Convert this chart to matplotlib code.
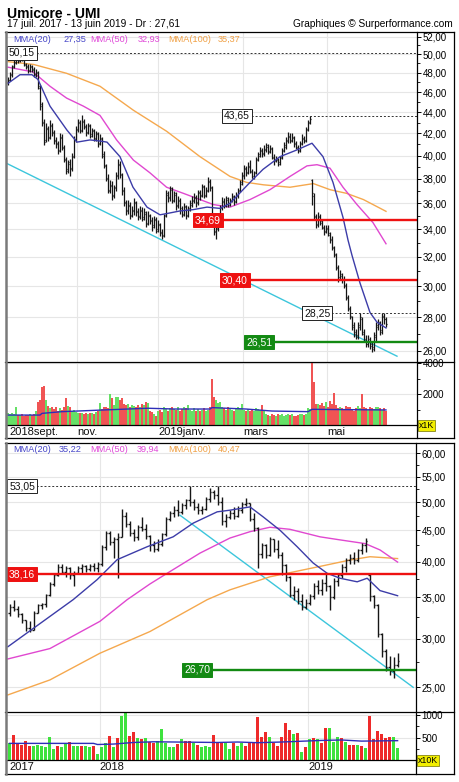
import numpy as np
import matplotlib
matplotlib.use('Agg')
import matplotlib.pyplot as plt
from matplotlib.lines import Line2D
from matplotlib.ticker import FixedLocator, FuncFormatter, NullFormatter
from matplotlib.transforms import blended_transform_factory

plt.rcParams['font.family'] = ['Liberation Sans', 'DejaVu Sans']

title = 'Umicore - UMI'
subtitle = '17 juil. 2017 - 13 juin 2019 - Dr : 27,61'
credit = 'Graphiques © Surperformance.com'

# ---- daily chart (one bar per trading day, sept. 2018 -> 13 juin 2019)
d_open = [
    47.0, 47.3, 47.8, 48.7, 49.1, 49.7, 49.4, 49.9, 49.4, 48.8,
    48.7, 48.3, 48.6, 48.4, 47.8, 48.0, 46.4, 44.8, 43.1, 41.4,
    42.4, 41.7, 42.7, 42.1, 41.4, 41.1, 40.5, 41.6, 40.7, 39.7,
    38.8, 39.4, 38.9, 40.0, 41.4, 42.3, 43.1, 42.3, 43.1, 42.7,
    42.1, 42.7, 41.9, 42.2, 41.6, 41.9, 41.1, 41.5, 40.1, 39.1,
    38.1, 37.1, 37.5, 36.7, 37.3, 38.2, 39.2, 38.3, 37.1, 36.1,
    35.5, 35.8, 35.1, 35.4, 36.0, 35.4, 35.0, 35.4, 34.9, 35.2,
    34.5, 35.0, 34.7, 34.3, 34.7, 34.0, 34.3, 33.8, 33.6, 35.1,
    36.7, 36.5, 37.1, 36.3, 36.7, 35.9, 36.2, 35.6, 35.2, 35.7,
    35.1, 35.6, 35.9, 36.2, 36.4, 36.1, 36.8, 36.7, 37.3, 36.7,
    37.1, 37.7, 37.2, 34.9, 33.9, 34.1, 34.8, 35.7, 36.1, 35.9,
    36.3, 36.0, 36.3, 36.5, 36.2, 36.6, 37.1, 37.7, 38.2, 38.8,
    38.6, 39.0, 38.6, 38.2, 38.6, 39.7, 40.1, 40.4, 40.2, 40.5,
    40.8, 40.4, 40.6, 39.8, 39.6, 39.6, 39.4, 39.9, 40.5, 40.8,
    41.3, 41.7, 41.4, 41.6, 41.1, 40.7, 40.5, 41.1, 41.5, 41.4,
    42.4, 43.1, 37.9, 36.6, 34.9, 34.4, 34.9, 34.6, 34.1, 33.9,
    34.1, 33.6, 33.3, 32.6, 32.1, 31.2, 30.6, 30.7, 30.5, 30.0,
    29.2, 28.5, 28.0, 27.5, 27.1, 26.8, 27.4, 27.9, 27.1, 26.7,
    26.4, 26.6, 26.4, 26.2, 26.8, 27.4, 27.6, 27.2, 28.0, 27.9]
d_high = [
    47.6, 48.1, 48.8, 49.5, 49.9, 49.9, 50.15, 50.1, 49.6, 49.1,
    48.9, 48.9, 48.8, 48.6, 48.4, 48.2, 46.7, 45.0, 43.4, 43.0,
    42.7, 43.3, 43.0, 42.3, 41.7, 41.3, 42.0, 41.9, 40.9, 39.9,
    39.6, 39.7, 40.2, 41.8, 42.7, 43.4, 43.3, 43.7, 43.4, 42.9,
    43.0, 42.9, 42.5, 42.4, 42.2, 42.1, 41.9, 41.7, 40.4, 39.3,
    38.4, 37.9, 37.8, 37.5, 38.6, 39.7, 39.5, 38.5, 37.3, 36.3,
    36.3, 36.1, 35.8, 36.4, 36.2, 35.6, 35.8, 35.7, 35.6, 35.4,
    35.4, 35.2, 34.9, 35.0, 34.9, 34.7, 34.5, 34.0, 35.2, 37.1,
    37.0, 37.4, 37.3, 37.0, 36.9, 36.6, 36.4, 35.8, 36.0, 35.9,
    35.8, 36.3, 36.6, 36.8, 36.7, 37.1, 37.1, 37.6, 37.5, 37.3,
    38.15, 38.0, 37.4, 35.1, 34.3, 35.1, 35.9, 36.5, 36.4, 36.6,
    36.5, 36.4, 36.8, 36.7, 36.9, 37.2, 37.9, 38.6, 39.2, 39.1,
    39.4, 39.6, 38.8, 38.7, 39.9, 40.3, 40.8, 40.7, 40.9, 41.1,
    41.0, 40.9, 40.8, 40.1, 40.0, 39.8, 40.0, 40.7, 41.2, 41.7,
    42.1, 42.0, 42.0, 41.8, 41.3, 40.9, 41.3, 41.9, 41.8, 42.6,
    43.3, 43.65, 38.0, 36.8, 35.2, 35.3, 35.2, 34.8, 34.3, 34.3,
    34.3, 33.8, 33.5, 32.8, 32.3, 31.4, 31.1, 30.9, 30.7, 30.2,
    29.4, 28.7, 28.1, 27.7, 27.3, 27.7, 28.25, 28.0, 27.3, 26.9,
    26.9, 26.8, 26.6, 27.1, 27.7, 27.9, 27.8, 28.25, 28.25, 28.0]
d_low = [
    46.7, 47.1, 47.6, 48.5, 48.9, 49.1, 49.2, 49.3, 48.7, 48.4,
    48.0, 48.1, 48.1, 47.6, 47.6, 46.3, 44.2, 42.7, 40.9, 41.2,
    41.3, 41.5, 41.8, 41.0, 40.7, 40.1, 40.3, 40.5, 39.4, 38.4,
    38.5, 38.2, 38.7, 39.8, 41.2, 42.1, 42.0, 42.1, 42.4, 41.8,
    41.9, 41.6, 41.7, 41.3, 41.3, 40.8, 40.9, 39.8, 38.9, 37.8,
    36.8, 36.8, 36.3, 36.4, 37.0, 38.0, 38.1, 36.7, 35.8, 35.1,
    35.2, 34.8, 34.9, 35.1, 35.0, 34.7, 34.8, 34.6, 34.7, 34.2,
    34.3, 34.4, 33.9, 34.1, 33.7, 33.8, 33.5, 33.3, 33.4, 34.9,
    36.1, 36.2, 36.0, 36.1, 35.5, 35.6, 35.2, 34.9, 35.0, 34.8,
    34.9, 35.4, 35.7, 36.0, 35.7, 35.9, 36.3, 36.5, 36.4, 36.5,
    36.9, 37.0, 34.8, 33.6, 33.3, 33.9, 34.6, 35.5, 35.6, 35.7,
    35.7, 35.8, 36.1, 35.9, 36.0, 36.4, 36.9, 37.5, 38.0, 38.2,
    38.4, 38.5, 38.05, 38.0, 38.4, 39.5, 39.9, 39.9, 40.0, 40.3,
    40.1, 40.2, 39.7, 39.2, 39.4, 39.1, 39.2, 39.7, 40.3, 40.6,
    41.1, 41.1, 41.2, 40.8, 40.6, 40.2, 40.3, 40.9, 41.1, 41.2,
    42.2, 42.9, 35.9, 34.8, 34.1, 34.2, 34.3, 34.0, 33.6, 33.7,
    33.5, 33.0, 32.5, 32.0, 31.1, 30.3, 30.4, 30.2, 29.9, 29.1,
    28.4, 27.9, 27.2, 26.8, 26.7, 26.7, 27.2, 26.9, 26.5, 26.2,
    26.2, 26.1, 25.94, 26.0, 26.6, 27.2, 26.9, 27.0, 27.6, 27.4]
d_close = [
    47.2, 47.9, 48.6, 49.2, 49.6, 49.3, 49.8, 49.5, 48.9, 48.6,
    48.2, 48.7, 48.3, 47.9, 48.1, 46.6, 44.6, 43.0, 41.2, 42.5,
    41.6, 42.8, 42.0, 41.3, 41.0, 40.4, 41.7, 40.8, 39.6, 38.7,
    39.3, 38.8, 39.9, 41.5, 42.4, 43.0, 42.2, 43.2, 42.6, 42.0,
    42.8, 41.8, 42.3, 41.5, 42.0, 41.0, 41.6, 40.0, 39.2, 38.0,
    37.0, 37.4, 36.6, 37.2, 38.3, 39.3, 38.4, 37.0, 36.0, 35.4,
    35.9, 35.0, 35.5, 36.1, 35.3, 34.9, 35.5, 34.8, 35.3, 34.4,
    35.1, 34.6, 34.2, 34.8, 33.9, 34.4, 33.7, 33.5, 35.0, 36.8,
    36.4, 37.2, 36.2, 36.8, 35.8, 36.3, 35.5, 35.1, 35.8, 35.0,
    35.5, 36.0, 36.3, 36.5, 36.0, 36.9, 36.6, 37.4, 36.6, 37.0,
    37.8, 37.3, 35.0, 33.8, 34.0, 34.9, 35.6, 36.2, 35.8, 36.4,
    35.9, 36.2, 36.6, 36.1, 36.7, 37.0, 37.6, 38.3, 38.9, 38.5,
    39.1, 38.7, 38.1, 38.5, 39.6, 40.0, 40.5, 40.1, 40.6, 40.9,
    40.3, 40.7, 39.9, 39.5, 39.7, 39.3, 39.8, 40.4, 40.9, 41.4,
    41.8, 41.3, 41.7, 41.0, 40.8, 40.4, 41.0, 41.6, 41.3, 42.3,
    43.0, 43.4, 36.8, 35.0, 34.3, 35.0, 34.5, 34.2, 33.8, 34.0,
    33.7, 33.2, 32.7, 32.2, 31.3, 30.5, 30.8, 30.4, 30.1, 29.3,
    28.6, 28.1, 27.4, 27.0, 26.9, 27.5, 28.0, 27.0, 26.6, 26.4,
    26.7, 26.3, 26.1, 26.9, 27.5, 27.7, 27.1, 28.1, 27.9, 27.61]
# volume in thousands
d_vol = [
    800, 750, 780, 700, 1200, 680, 650, 700, 620, 680,
    650, 700, 680, 720, 900, 1500, 1600, 2480, 2560, 1630,
    1250, 1100, 1200, 1050, 1150, 950, 1100, 1000, 1200, 1740,
    1250, 1150, 900, 1000, 850, 800, 780, 820, 760, 800,
    750, 820, 780, 700, 850, 900, 1420, 1050, 1150, 1200,
    1100, 2000, 1740, 1300, 1850, 1800, 1650, 1740, 1400, 1300,
    1350, 1200, 1300, 1250, 1150, 1300, 1200, 1400, 1300, 1520,
    1450, 900, 850, 700, 600, 950, 1000, 850, 1150, 1050,
    900, 1100, 1150, 1050, 1000, 1200, 950, 1050, 1200, 1100,
    1300, 1000, 950, 1100, 900, 1050, 950, 1000, 1100, 900,
    1000, 1200, 3000, 1850, 1600, 1450, 1500, 1200, 1100, 1000,
    1150, 1050, 1000, 950, 1100, 1200, 1050, 1400, 1000, 950,
    1050, 900, 1000, 950, 1100, 1050, 1000, 1300, 950, 700,
    650, 600, 700, 650, 600, 750, 650, 700, 600, 680,
    700, 650, 700, 620, 600, 650, 700, 720, 680, 700,
    1100, 1050, 4100, 2800, 1400, 1350, 1300, 1450, 1250, 1500,
    1200, 1550, 1400, 2060, 1300, 1100, 1200, 1100, 1000, 1250,
    1150, 1200, 1050, 950, 1100, 1250, 1100, 2000, 1200, 1100,
    1000, 1150, 1100, 1050, 1200, 1150, 1100, 1000, 1100, 950]
d_volavg_x = [0, 16, 17, 27, 50, 70, 83, 101, 102, 119, 132, 150, 152, 189]
d_volavg = [660, 660, 770, 880, 1000, 1100, 1050, 1050, 1140, 1050, 920, 880, 1030, 990]

d_mma20_x = [0, 6, 12, 15, 21, 29.5, 34.5, 41, 46, 49.5, 56, 62.5, 69.5, 76, 79.5, 86, 92.5,
             99.5, 106, 111, 121, 127.5, 136, 144.5, 152, 157.5, 162.5, 167.5, 170, 172, 176,
             181, 184.5, 189]
d_mma20 = [46.9, 47.8, 47.8, 47.3, 44.6, 42.3, 41.2, 41.4, 41.3, 41.2, 39.9, 37.3, 35.7, 35.1,
           35.2, 35.4, 35.5, 35.7, 35.6, 36.0, 37.7, 38.8, 39.9, 40.5, 41.1, 39.9, 37.7, 34.9,
           33.2, 32.1, 30.2, 28.3, 27.7, 27.35]
d_mma50_x = [0, 12.5, 21, 29.3, 37.7, 46, 54.3, 62.7, 71, 79.3, 87.7, 96, 102.7, 111, 121, 131,
             141, 149.5, 154.5, 161, 167.5, 174.5, 182.5, 189]
d_mma50 = [48.6, 48.1, 46.6, 45.4, 44.6, 43.7, 41.4, 39.6, 38.5, 37.3, 36.8, 36.3, 35.9, 35.7,
           36.3, 37.1, 38.2, 39.1, 39.2, 38.9, 37.3, 35.9, 34.5, 32.93]
d_mma100_x = [0, 12.7, 29.3, 46, 62.7, 79.3, 96, 111, 119.3, 127.7, 141, 152.7, 161, 169.3,
              177.7, 189]
d_mma100 = [49.2, 48.9, 47.95, 46.6, 44.2, 42.2, 39.9, 38.2, 37.7, 37.5, 37.3, 37.6, 37.1, 36.8,
            36.3, 35.37]
d_trend_x = [-0.5, 194.5]
d_trend = [39.3, 25.7]
d_levels = [50.15, 43.65, 34.69, 30.40, 28.25, 26.51]
d_level_kind = ['dash', 'dash', 'red', 'red', 'dash', 'green']
d_months = ['2018sept.', 'nov.', '2019janv.', 'mars', 'mai']
d_month_idx = [0.5, 34.5, 75, 117.5, 159.5]

# ---- weekly chart (17 juil. 2017 -> juin 2019)
w_open = [
    33.0, 33.8, 33.5, 32.9, 32.2, 31.2, 31.0, 33.0, 34.0, 34.1,
    35.3, 36.8, 38.0, 39.2, 38.5, 39.0, 38.0, 38.3, 39.0, 39.3,
    38.9, 39.4, 39.0, 39.6, 42.2, 44.5, 43.0, 43.5, 43.8, 47.5,
    46.0, 44.5, 43.8, 45.5, 45.2, 44.0, 42.5, 42.0, 42.8, 44.3,
    47.0, 48.0, 48.6, 48.2, 49.5, 50.4, 50.0, 49.0, 48.5, 48.8,
    50.5, 51.9, 51.3, 50.0, 46.5, 47.2, 48.0, 47.5, 48.5, 49.6,
    49.8, 47.0, 45.3, 41.2, 42.5, 41.0, 43.5, 42.0, 41.0, 39.5,
    37.8, 35.3, 35.8, 34.5, 33.8, 34.3, 35.2, 36.5, 36.0, 37.0,
    36.5, 35.0, 37.2, 38.0, 39.2, 40.2, 40.6, 40.2, 41.8, 42.5,
    38.0, 35.2, 34.0, 30.5, 28.6, 27.0, 26.6, 27.2]
w_high = [
    34.2, 34.7, 33.9, 33.0, 32.2, 32.0, 33.2, 34.2, 34.3, 35.5,
    37.1, 38.3, 39.6, 39.7, 39.4, 39.2, 38.6, 39.3, 39.6, 39.5,
    39.6, 39.8, 39.9, 42.5, 44.9, 44.8, 43.8, 44.5, 48.7, 48.2,
    46.5, 45.2, 45.8, 47.3, 46.0, 44.2, 43.2, 43.5, 44.6, 47.3,
    48.3, 49.3, 50.3, 49.8, 50.6, 53.0, 50.5, 49.8, 49.3, 50.9,
    52.7, 52.3, 53.05, 51.0, 47.8, 48.5, 49.0, 49.3, 50.0, 50.7,
    49.9, 48.0, 45.5, 42.9, 42.7, 43.9, 43.6, 43.3, 41.5, 39.6,
    37.9, 36.5, 36.2, 35.4, 34.8, 35.5, 37.0, 37.4, 37.5, 38.3,
    36.6, 37.6, 38.3, 39.6, 40.5, 41.2, 41.4, 42.0, 42.9, 43.65,
    38.2, 35.3, 34.2, 30.6, 28.8, 28.1, 28.0, 28.4]
w_low = [
    32.6, 33.2, 32.5, 31.8, 30.9, 30.7, 31.0, 33.0, 33.5, 33.8,
    35.2, 36.5, 37.9, 38.2, 37.8, 37.5, 36.5, 38.2, 38.4, 38.5,
    38.6, 38.7, 38.5, 39.4, 41.8, 42.6, 40.6, 37.6, 43.8, 45.5,
    44.0, 43.2, 43.4, 44.8, 43.5, 41.6, 41.5, 41.6, 42.4, 44.0,
    46.5, 47.3, 47.5, 47.8, 48.7, 49.2, 48.6, 47.8, 47.9, 48.5,
    50.0, 50.6, 49.5, 45.8, 45.5, 46.9, 47.0, 47.2, 48.0, 49.2,
    46.5, 44.8, 39.1, 40.5, 40.5, 40.8, 41.4, 40.5, 38.1, 37.2,
    35.0, 34.6, 34.2, 33.4, 33.5, 34.0, 34.8, 35.5, 35.3, 35.8,
    33.4, 34.8, 36.5, 37.6, 38.5, 39.6, 39.7, 40.0, 41.2, 41.5,
    34.5, 33.6, 30.2, 28.0, 26.6, 26.2, 25.9, 27.0]
w_close = [
    33.8, 33.5, 32.9, 32.2, 31.2, 31.0, 33.0, 34.0, 34.1, 35.3,
    36.8, 38.0, 39.2, 38.5, 39.0, 38.0, 38.3, 39.0, 39.3, 38.9,
    39.4, 39.0, 39.6, 42.2, 44.5, 43.0, 43.5, 43.8, 47.5, 46.0,
    44.5, 43.8, 45.5, 45.2, 44.0, 42.5, 42.0, 42.8, 44.3, 47.0,
    48.0, 48.6, 48.2, 49.5, 50.4, 50.0, 49.0, 48.5, 48.8, 50.5,
    51.9, 51.3, 50.0, 46.5, 47.2, 48.0, 47.5, 48.5, 49.6, 49.8,
    47.0, 45.3, 41.2, 42.5, 41.0, 43.5, 42.0, 41.0, 39.5, 37.8,
    35.3, 35.8, 34.5, 33.8, 34.3, 35.2, 36.5, 36.0, 37.0, 36.5,
    35.0, 37.2, 38.0, 39.2, 40.2, 40.6, 40.2, 41.8, 42.5, 43.2,
    35.2, 34.0, 30.5, 28.6, 27.0, 26.6, 27.2, 27.61]
# volume in tens of thousands, g = up week, r = down week
w_vol = [
    375, 558, 375, 340, 435, 316, 316, 340, 316, 302,
    521, 250, 316, 302, 375, 412, 316, 316, 316, 316,
    302, 316, 140, 302, 375, 537, 302, 485, 978, 1073,
    537, 617, 485, 463, 492, 412, 390, 435, 690, 375,
    302, 302, 360, 463, 435, 435, 375, 340, 302, 316,
    287, 558, 412, 412, 375, 243, 375, 316, 375, 316,
    375, 380, 947, 521, 617, 521, 375, 316, 521, 831,
    668, 580, 596, 177, 302, 463, 500, 463, 390, 706,
    720, 412, 507, 485, 412, 340, 340, 340, 316, 265,
    985, 463, 654, 580, 485, 507, 521, 265]
w_dir = ('grrrrrgggg' 'ggrggrggrg' 'grgggrgrgg' 'rrgrgrrggg' 'ggrgrrgrgg'
         'grrrggrggr' 'rrrrrgrrrr' 'rgrgrgrgrr' 'gggrgrrgrg' 'rrrrrrgg')
w_volavg_x = [0, 21, 22, 26, 31, 36, 52, 57, 62, 68, 78, 83, 88, 97]
w_volavg = [375, 375, 350, 360, 395, 410, 395, 405, 390, 405, 440, 450, 425, 435]

w_mma20_x = [-0.4, 8.4, 15.9, 21.9, 26.9, 34.4, 40.9, 45.9, 51.9, 55.1, 60.1, 63.4, 67.6, 71.9,
             75.9, 79.4, 82.6, 86.9, 89.4, 92.6, 97]
w_mma20 = [29.1, 32.0, 34.7, 37.4, 40.3, 42.3, 43.9, 46.2, 48.2, 48.5, 49.1, 47.3, 45.0, 42.3,
           39.8, 38.3, 37.6, 37.1, 37.6, 35.9, 35.22]
w_mma50_x = [-0.4, 10.1, 22.6, 29.4, 35.1, 39.4, 47.6, 55.1, 60.1, 65.1, 70.1, 77.6, 82.6, 88.9,
             92.6, 97]
w_mma50 = [27.8, 28.9, 32.0, 34.7, 36.8, 38.3, 41.3, 43.7, 44.75, 45.5, 45.15, 43.9, 43.4, 42.8,
           41.8, 39.94]
w_mma100_x = [-0.4, 10.1, 22.6, 35.1, 49.4, 55.1, 65.1, 77.6, 85.1, 90.1, 97]
w_mma100 = [24.3, 25.7, 28.4, 30.8, 34.7, 36.0, 37.8, 39.3, 40.25, 40.75, 40.47]
w_trend_x = [42.6, 100.9]
w_trend = [47.6, 25.0]
w_levels = [53.05, 38.16, 26.70]
w_level_kind = ['dash', 'red', 'green']
w_years = ['2017', '2018', '2019']
w_year_idx = [0.1, 22.6, 74.6]

# ---- styles
C20, C50, C100 = '#3c3ca8', '#e048d0', '#f5a84e'
T20, T50, T100 = '#4646c8', '#e048d8', '#f0a044'
RED, GREEN = '#ee1111', '#138a13'
GRID = '#e6e6e6'

W, H = 460, 782
fig = plt.figure(figsize=(W / 100, H / 100), dpi=100)


def add_ax(l, t, r, b):
    return fig.add_axes([l / W, 1 - b / H, (r - l) / W, (b - t) / H])


def fline(x0, y0, x1, y1, color='black', lw=0.9):
    fig.add_artist(Line2D([x0 / W, x1 / W], [1 - y0 / H, 1 - y1 / H], color=color, lw=lw,
                          transform=fig.transFigure))


def comma(v, pos=None):
    return ('%.2f' % v).replace('.', ',')


def setup_price(ax, xlim, ylim, majors, minors, grid_x):
    ax.set_yscale('log')
    ax.set_xlim(*xlim)
    ax.set_ylim(*ylim)
    ax.yaxis.set_major_locator(FixedLocator(majors))
    ax.yaxis.set_minor_locator(FixedLocator(minors))
    ax.yaxis.set_major_formatter(FuncFormatter(comma))
    ax.yaxis.set_minor_formatter(NullFormatter())
    ax.yaxis.tick_right()
    ax.tick_params(axis='y', which='major', length=3, width=0.7, labelsize=7, pad=1)
    ax.tick_params(axis='y', which='minor', length=2, width=0.6)
    ax.set_xticks(grid_x)
    ax.tick_params(axis='x', length=0, labelbottom=False)
    ax.grid(True, which='major', color=GRID, lw=0.8)
    ax.set_axisbelow(True)
    for s in ax.spines.values():
        s.set_visible(False)


def setup_vol(ax, xlim, ylim, majors, minors, grid_x, names, name_idx, unit, label_y):
    ax.set_xlim(*xlim)
    ax.set_ylim(*ylim)
    ax.yaxis.tick_right()
    ax.set_yticks(majors)
    ax.set_yticks(minors, minor=True)
    ax.tick_params(axis='y', which='major', length=3, width=0.7, labelsize=7, pad=1)
    ax.tick_params(axis='y', which='minor', length=2, width=0.6)
    ax.set_xticks(grid_x)
    ax.tick_params(axis='x', length=0, labelbottom=False)
    ax.grid(True, which='major', color=GRID, lw=0.8)
    ax.set_axisbelow(True)
    for s in ax.spines.values():
        s.set_visible(False)
    tr = blended_transform_factory(ax.transData, ax.transAxes)
    for lab, pos in zip(names, name_idx):
        ax.text(pos, label_y, lab, transform=tr, fontsize=8, ha='left', va='center', color='#111')
    ax.text(1.004, 0.0, unit, transform=ax.transAxes, fontsize=6.3, ha='left', va='center',
            bbox=dict(boxstyle='square,pad=0.12', fc='#f2ee00', ec='#707000', lw=0.5))


def draw_ohlc(ax, o, h, l, c, tick, lw):
    x = np.arange(len(c))
    ax.vlines(x, l, h, color='#151515', lw=lw, zorder=3)
    ax.hlines(o, x - tick, x, color='#151515', lw=lw, zorder=3)
    ax.hlines(c, x, x + tick, color='#151515', lw=lw, zorder=3)


def draw_levels(ax, levels, kinds, starts, xmax):
    for v, k, x0 in zip(levels, kinds, starts):
        if k == 'dash':
            ax.hlines(v, x0, xmax, color='#333333', lw=0.7, linestyles=(0, (2, 2)), zorder=4)
            fc, ec, tc = 'white', '#222222', '#111111'
        else:
            col = RED if k == 'red' else GREEN
            ax.hlines(v, x0, xmax, color=col, lw=1.7, zorder=4)
            fc, ec, tc = col, col, 'white'
        ax.text(x0, v, comma(v), fontsize=7.5, color=tc, ha='left', va='center', zorder=10,
                bbox=dict(boxstyle='square,pad=0.18', fc=fc, ec=ec, lw=0.7))


def mma_legend(y, values, xs):
    items = [('MMA(20)', T20), (comma(values[0]), T20), ('MMA(50)', T50), (comma(values[1]), T50),
             ('MMA(100)', T100), (comma(values[2]), T100)]
    for (s, col), x in zip(items, xs):
        fig.text(x / W, 1 - y / H, s, fontsize=6.6, color=col, va='baseline', ha='left')


# ---- header
fig.text(7 / W, 1 - 17.5 / H, title, fontsize=10, fontweight='bold', va='baseline')
fig.text(7 / W, 1 - 27.3 / H, subtitle, fontsize=7.3, va='baseline')
fig.text(453 / W, 1 - 27.3 / H, credit, fontsize=7.3, va='baseline', ha='right')

# ---- top: daily price
ax1 = add_ax(6.7, 31.5, 417, 361.7)
d_xlim = (-0.65, 204.5)
setup_price(ax1, d_xlim, (25.39, 52.58), list(range(26, 53, 2)), list(range(27, 53, 2)),
            d_month_idx[1:])
ax1.plot(d_trend_x, d_trend, color='#3cc6dc', lw=1, zorder=2)
ax1.plot(d_mma100_x, d_mma100, color=C100, lw=1, zorder=2)
ax1.plot(d_mma50_x, d_mma50, color=C50, lw=1, zorder=2)
ax1.plot(d_mma20_x, d_mma20, color=C20, lw=1, zorder=3.5)
draw_ohlc(ax1, d_open, d_high, d_low, d_close, 0.5, 0.9)
draw_levels(ax1, d_levels, d_level_kind, [0.5, 108, 93.5, 107, 148, 119], d_xlim[1])
mma_legend(41.5, [d_mma20[-1], d_mma50[-1], d_mma100[-1]], [13, 63, 90, 138, 168, 218])

# ---- top: daily volume (thin bars come out paler in the reference)
ax2 = add_ax(6.7, 361.7, 417, 425.3)
xd = np.arange(len(d_vol))
d_cols = ['#66e066' if c >= o else '#f05454' for o, c in zip(d_open, d_close)]
ax2.bar(xd, d_vol, width=0.72, color=d_cols, lw=0, zorder=2)
ax2.plot(d_volavg_x, d_volavg, color='#2e2eb8', lw=1, zorder=3)
setup_vol(ax2, d_xlim, (0, 4102), [2000, 4000], [1000, 3000], d_month_idx[1:], d_months,
          d_month_idx, 'x1K', -0.105)

# ---- bottom: weekly price
ax3 = add_ax(6.7, 443, 416, 711.7)
w_xlim = (-0.7, 101.6)
setup_price(ax3, w_xlim, (22.82, 62.36), list(range(25, 61, 5)), [27.5, 32.5, 37.5, 42.5, 47.5,
            52.5, 57.5, 62.5], w_year_idx[1:])
ax3.plot(w_trend_x, w_trend, color='#3cc6dc', lw=1, zorder=2)
ax3.plot(w_mma100_x, w_mma100, color=C100, lw=1, zorder=2)
ax3.plot(w_mma50_x, w_mma50, color=C50, lw=1, zorder=2)
ax3.plot(w_mma20_x, w_mma20, color=C20, lw=1, zorder=3.5)
draw_ohlc(ax3, w_open, w_high, w_low, w_close, 0.42, 1.0)
draw_levels(ax3, w_levels, w_level_kind, [-0.1, -0.1, 43.6], w_xlim[1])
mma_legend(452, [w_mma20[-1], w_mma50[-1], w_mma100[-1]], [13, 59, 90, 137, 168, 218])

# ---- bottom: weekly volume
ax4 = add_ax(6.7, 711.7, 416, 760.4)
xw = np.arange(len(w_vol))
w_cols = ['#3ee23e' if d == 'g' else '#ee2a2a' for d in w_dir]
ax4.bar(xw, w_vol, width=0.75, color=w_cols, lw=0, zorder=2)
ax4.plot(w_volavg_x, w_volavg, color='#2e2eb8', lw=1, zorder=3)
setup_vol(ax4, w_xlim, (0, 1073), [500, 1000], [250, 750], w_year_idx[1:], w_years,
          w_year_idx, 'x10K', -0.135)

# ---- frames
for top, sep, base, axis_x, bottom in [(31.5, 361.7, 425.3, 417, 438.5),
                                       (443, 711.7, 760.4, 416, 774)]:
    fline(5, top, 454, top)
    fline(5, bottom, 454, bottom)
    fline(454, top, 454, bottom)
    fline(5, sep, 454, sep)
    fline(axis_x, top, axis_x, bottom)
    fline(6, base, axis_x, base)
    fline(6, top, 6, bottom, color='#7a7a7a', lw=1.8)

fig.savefig('out.png', dpi=100)
